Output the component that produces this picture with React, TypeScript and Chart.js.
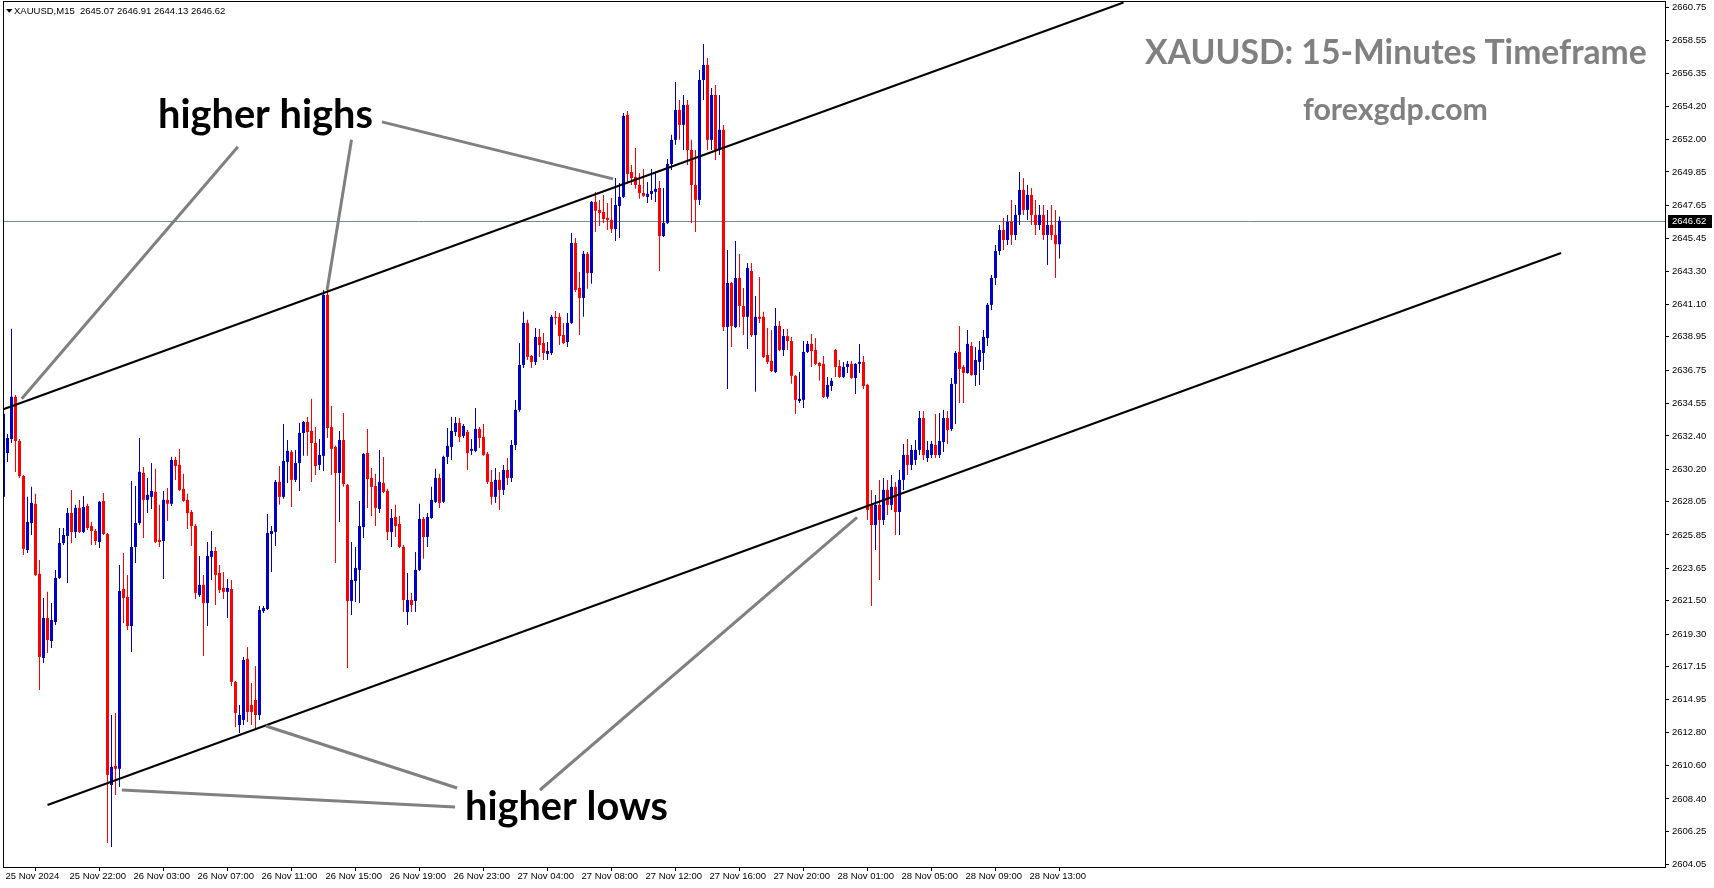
import React, { useEffect, useRef } from "react";
import { Chart, registerables } from "chart.js";

Chart.register(...registerables);

// ---- Candle data (XAUUSD M15), bar index = position on the time axis ----
const OPEN = [
  2628.37, 2631.27, 2632.20, 2634.98, 2632.06, 2629.75, 2624.86, 2626.64, 2627.91, 2623.28,
  2617.72, 2620.36, 2618.84, 2620.10, 2623.01, 2625.32, 2625.78, 2627.30, 2626.05, 2627.64,
  2626.05, 2627.77, 2626.44, 2626.11, 2625.39, 2628.10, 2625.92, 2609.32, 2610.58, 2610.39,
  2622.28, 2621.75, 2619.83, 2625.06, 2626.64, 2629.95, 2628.17, 2628.37, 2628.70, 2625.52,
  2625.45, 2628.17, 2627.91, 2630.81, 2630.48, 2628.90, 2628.17, 2627.37, 2626.44, 2621.88,
  2622.55, 2621.35, 2624.40, 2624.79, 2623.34, 2622.35, 2622.09, 2622.28, 2616.14, 2613.29,
  2613.62, 2617.66, 2614.61, 2614.94, 2613.95, 2620.82, 2620.95, 2625.92, 2626.05, 2629.36,
  2628.37, 2630.68, 2631.34, 2629.49, 2630.61, 2632.59, 2633.32, 2632.73, 2631.93, 2630.48,
  2631.08, 2641.72, 2632.99, 2631.67, 2629.95, 2632.13, 2629.16, 2621.49, 2622.81, 2623.54,
  2626.38, 2631.27, 2629.62, 2629.09, 2627.57, 2629.29, 2628.76, 2626.05, 2627.04, 2626.58,
  2625.06, 2620.76, 2621.55, 2621.49, 2623.54, 2626.91, 2625.72, 2626.97, 2628.04, 2629.62,
  2628.04, 2631.01, 2631.67, 2632.66, 2633.25, 2632.40, 2632.66, 2631.41, 2631.41, 2632.86,
  2632.33, 2631.21, 2629.36, 2628.37, 2629.49, 2628.83, 2630.15, 2629.62, 2631.80, 2634.12,
  2637.09, 2639.87, 2637.68, 2637.29, 2638.94, 2638.54, 2637.82, 2637.88, 2640.27, 2640.27,
  2639.07, 2638.61, 2639.87, 2645.15, 2642.18, 2641.52, 2644.43, 2643.17, 2647.87, 2647.34,
  2647.21, 2646.81, 2646.68, 2646.08, 2647.60, 2648.20, 2653.62, 2649.85, 2649.52, 2648.99,
  2648.46, 2648.20, 2648.40, 2648.53, 2648.79, 2645.61, 2646.48, 2650.38, 2651.97, 2653.95,
  2652.96, 2654.28, 2651.30, 2648.99, 2648.00, 2655.93, 2656.92, 2651.97, 2654.94, 2651.30,
  2652.63, 2639.60, 2642.51, 2639.60, 2642.84, 2640.99, 2640.27, 2643.30, 2639.07, 2640.27,
  2640.27, 2637.75, 2637.35, 2636.63, 2639.67, 2638.08, 2639.00, 2638.67, 2636.37, 2634.71,
  2634.78, 2637.95, 2638.48, 2638.08, 2637.22, 2637.16, 2634.98, 2635.70, 2638.08, 2637.02,
  2636.30, 2636.96, 2637.16, 2636.23, 2637.16, 2637.29, 2635.77, 2627.84, 2626.51, 2627.84,
  2626.84, 2628.83, 2627.84, 2629.03, 2627.37, 2629.49, 2631.14, 2630.48, 2630.81, 2631.47,
  2633.58, 2630.94, 2631.14, 2631.80, 2631.14, 2632.00, 2633.58, 2632.86, 2635.84, 2637.95,
  2636.96, 2636.56, 2638.34, 2636.43, 2637.29, 2637.88, 2638.87, 2641.06, 2642.84, 2644.62,
  2646.01, 2645.35, 2646.55, 2645.68, 2647.01, 2648.66, 2647.34, 2648.33, 2647.01, 2646.34,
  2647.01, 2645.68, 2646.34, 2645.68, 2645.07,
];

const HIGH = [
  2634.71, 2632.53, 2639.48, 2635.11, 2632.20, 2629.82, 2628.37, 2629.03, 2628.57, 2624.20,
  2621.69, 2622.09, 2621.35, 2623.54, 2626.31, 2626.31, 2627.64, 2628.83, 2627.84, 2628.17,
  2628.43, 2627.91, 2626.71, 2626.25, 2628.10, 2628.63, 2625.98, 2613.95, 2614.08, 2623.87,
  2624.66, 2623.21, 2629.42, 2629.09, 2632.26, 2630.35, 2629.62, 2630.61, 2630.22, 2627.84,
  2628.76, 2628.96, 2631.01, 2631.01, 2631.54, 2629.89, 2628.57, 2627.50, 2626.58, 2624.46,
  2623.21, 2625.39, 2626.11, 2625.06, 2623.87, 2623.41, 2622.94, 2622.88, 2616.20, 2614.61,
  2617.79, 2618.45, 2616.07, 2617.19, 2621.15, 2621.15, 2627.24, 2626.44, 2629.49, 2630.41,
  2633.19, 2632.13, 2631.47, 2631.47, 2633.25, 2633.39, 2633.65, 2634.85, 2632.99, 2632.20,
  2642.05, 2642.05, 2634.38, 2631.74, 2632.73, 2633.92, 2629.22, 2625.39, 2625.06, 2628.10,
  2631.27, 2632.86, 2630.28, 2629.89, 2631.47, 2631.01, 2628.90, 2627.57, 2627.84, 2627.11,
  2625.19, 2623.34, 2622.02, 2624.73, 2627.91, 2627.04, 2627.30, 2629.03, 2630.22, 2629.89,
  2631.08, 2632.92, 2633.65, 2633.65, 2633.58, 2633.19, 2632.79, 2632.20, 2634.25, 2632.99,
  2633.19, 2631.34, 2630.15, 2630.28, 2630.02, 2630.48, 2630.94, 2632.13, 2634.78, 2638.54,
  2640.60, 2640.07, 2637.75, 2639.53, 2639.47, 2639.20, 2638.61, 2640.40, 2640.66, 2640.53,
  2639.87, 2640.53, 2645.81, 2645.48, 2643.24, 2644.62, 2644.56, 2647.93, 2648.53, 2648.00,
  2648.33, 2647.80, 2648.13, 2649.45, 2649.12, 2653.75, 2653.88, 2650.31, 2651.43, 2649.78,
  2650.05, 2649.19, 2650.05, 2649.78, 2649.25, 2648.79, 2650.71, 2652.30, 2655.80, 2654.61,
  2654.94, 2654.61, 2651.97, 2651.30, 2656.59, 2658.31, 2657.38, 2655.40, 2655.60, 2654.94,
  2652.96, 2644.69, 2642.58, 2645.28, 2644.43, 2642.18, 2643.83, 2643.83, 2641.65, 2642.91,
  2640.60, 2639.53, 2639.40, 2640.86, 2640.00, 2639.47, 2639.47, 2638.94, 2636.43, 2636.63,
  2638.67, 2638.67, 2639.14, 2638.87, 2637.29, 2637.68, 2636.30, 2636.23, 2638.14, 2637.42,
  2637.29, 2637.35, 2637.35, 2637.22, 2638.48, 2637.68, 2635.84, 2628.83, 2628.50, 2629.49,
  2629.62, 2629.49, 2629.82, 2629.36, 2630.15, 2631.87, 2632.20, 2631.80, 2632.13, 2634.05,
  2634.05, 2632.06, 2632.06, 2633.85, 2633.92, 2634.12, 2634.05, 2636.23, 2638.01, 2639.67,
  2637.09, 2639.40, 2638.61, 2638.28, 2638.67, 2639.40, 2641.19, 2643.04, 2645.02, 2646.34,
  2646.81, 2647.01, 2648.00, 2647.67, 2649.85, 2649.45, 2648.99, 2648.79, 2648.00, 2647.67,
  2647.67, 2647.34, 2647.67, 2647.34, 2646.91,
];

const LOW = [
  2628.17, 2630.68, 2631.93, 2630.02, 2629.62, 2624.53, 2624.66, 2625.85, 2623.14, 2615.60,
  2617.39, 2618.05, 2618.38, 2619.90, 2622.94, 2625.19, 2622.68, 2625.32, 2625.65, 2625.98,
  2625.98, 2626.18, 2625.19, 2625.19, 2624.99, 2625.85, 2605.49, 2605.23, 2608.66, 2609.19,
  2620.03, 2619.57, 2618.12, 2624.00, 2626.51, 2625.65, 2627.30, 2627.57, 2625.32, 2625.06,
  2622.94, 2626.77, 2627.77, 2629.49, 2628.76, 2628.04, 2626.25, 2625.12, 2621.62, 2621.75,
  2617.85, 2619.83, 2622.88, 2621.22, 2622.02, 2621.62, 2620.36, 2615.87, 2613.16, 2612.76,
  2613.29, 2613.49, 2613.29, 2613.09, 2613.62, 2620.69, 2620.89, 2623.41, 2625.12, 2627.84,
  2628.24, 2629.29, 2627.70, 2629.36, 2628.76, 2631.08, 2631.08, 2629.36, 2629.82, 2630.15,
  2630.08, 2632.26, 2629.82, 2624.00, 2626.71, 2629.03, 2617.06, 2620.56, 2621.42, 2621.35,
  2625.65, 2627.64, 2627.11, 2626.44, 2627.30, 2628.63, 2625.52, 2625.06, 2625.72, 2624.99,
  2620.76, 2619.90, 2620.76, 2620.76, 2623.47, 2624.27, 2625.06, 2626.91, 2627.97, 2627.64,
  2627.97, 2630.55, 2630.81, 2632.40, 2632.00, 2632.26, 2630.15, 2631.14, 2631.34, 2631.60,
  2631.08, 2629.22, 2627.84, 2627.97, 2627.50, 2628.50, 2629.16, 2629.36, 2631.47, 2633.99,
  2636.89, 2637.42, 2636.89, 2637.09, 2637.62, 2637.42, 2637.42, 2637.75, 2639.74, 2638.41,
  2638.48, 2638.28, 2639.80, 2641.92, 2639.07, 2640.27, 2642.12, 2642.45, 2645.88, 2646.28,
  2646.48, 2646.01, 2645.81, 2645.28, 2645.48, 2648.13, 2649.12, 2648.99, 2648.73, 2648.07,
  2648.20, 2647.80, 2648.00, 2647.87, 2643.30, 2645.55, 2646.41, 2649.98, 2651.64, 2651.97,
  2651.30, 2650.31, 2646.48, 2645.88, 2647.67, 2654.61, 2651.30, 2651.30, 2650.64, 2650.97,
  2639.34, 2635.50, 2638.28, 2639.53, 2639.60, 2639.07, 2638.14, 2638.94, 2635.31, 2639.87,
  2637.55, 2637.16, 2636.63, 2636.56, 2638.01, 2637.68, 2638.08, 2635.84, 2633.85, 2634.58,
  2634.25, 2637.88, 2636.96, 2637.09, 2636.04, 2634.91, 2634.85, 2635.37, 2636.30, 2636.23,
  2636.23, 2636.56, 2636.17, 2635.17, 2636.56, 2635.50, 2626.84, 2621.15, 2624.86, 2622.88,
  2626.51, 2627.17, 2627.50, 2625.85, 2625.85, 2628.83, 2629.82, 2630.15, 2630.48, 2631.14,
  2630.81, 2630.68, 2630.94, 2630.94, 2630.94, 2631.34, 2631.87, 2632.73, 2633.19, 2634.58,
  2634.58, 2636.50, 2636.37, 2635.70, 2635.77, 2636.76, 2638.34, 2640.73, 2642.38, 2644.36,
  2644.69, 2645.02, 2645.02, 2645.35, 2646.34, 2647.01, 2646.68, 2646.34, 2645.68, 2646.01,
  2645.35, 2643.70, 2645.35, 2642.84, 2644.13,
];

const CLOSE = [
  2633.86, 2632.26, 2634.98, 2632.06, 2629.75, 2624.93, 2626.71, 2627.97, 2623.21, 2617.79,
  2620.36, 2618.91, 2620.23, 2623.01, 2625.32, 2625.85, 2627.30, 2626.05, 2627.64, 2626.05,
  2627.70, 2626.31, 2626.11, 2625.45, 2628.04, 2625.92, 2609.99, 2610.52, 2610.39, 2622.15,
  2621.69, 2619.83, 2625.06, 2626.64, 2630.02, 2628.17, 2628.50, 2628.76, 2625.39, 2625.39,
  2628.17, 2627.91, 2630.81, 2630.41, 2628.83, 2628.10, 2627.30, 2626.44, 2622.02, 2622.55,
  2621.35, 2624.46, 2624.79, 2623.21, 2622.22, 2622.09, 2622.35, 2616.14, 2614.08, 2613.95,
  2617.59, 2614.15, 2614.15, 2613.95, 2620.89, 2621.02, 2625.98, 2626.11, 2629.36, 2628.37,
  2630.74, 2631.41, 2629.49, 2630.61, 2632.59, 2633.32, 2632.66, 2631.93, 2630.41, 2631.14,
  2641.72, 2632.92, 2631.54, 2629.95, 2632.13, 2629.22, 2621.49, 2622.88, 2623.67, 2626.44,
  2631.21, 2629.55, 2629.03, 2627.64, 2629.36, 2628.70, 2626.05, 2626.97, 2626.44, 2625.06,
  2621.55, 2621.55, 2621.22, 2623.54, 2626.91, 2625.72, 2627.04, 2628.17, 2629.62, 2627.97,
  2631.01, 2631.74, 2632.73, 2633.25, 2632.33, 2633.06, 2631.27, 2631.54, 2632.86, 2632.26,
  2631.14, 2629.36, 2628.37, 2629.49, 2628.83, 2630.15, 2629.62, 2631.80, 2634.12, 2637.09,
  2639.87, 2637.62, 2637.29, 2638.94, 2638.41, 2637.88, 2638.01, 2640.27, 2640.20, 2639.00,
  2638.54, 2639.87, 2645.15, 2642.05, 2641.52, 2644.43, 2643.17, 2647.87, 2647.28, 2647.14,
  2646.74, 2646.68, 2646.08, 2647.67, 2648.20, 2653.55, 2649.72, 2649.45, 2648.99, 2648.46,
  2648.27, 2648.40, 2648.59, 2648.73, 2645.61, 2646.48, 2650.38, 2651.97, 2653.95, 2652.96,
  2654.28, 2651.30, 2648.99, 2648.00, 2655.93, 2656.92, 2651.97, 2654.94, 2651.30, 2652.63,
  2639.60, 2642.51, 2639.67, 2642.84, 2640.99, 2640.27, 2643.50, 2639.07, 2640.27, 2640.14,
  2637.62, 2637.29, 2636.69, 2639.67, 2638.08, 2639.00, 2638.67, 2636.37, 2634.78, 2634.85,
  2637.95, 2638.48, 2638.01, 2637.16, 2637.02, 2634.98, 2635.77, 2636.04, 2636.96, 2636.30,
  2636.96, 2637.16, 2636.23, 2637.16, 2637.29, 2635.70, 2627.50, 2626.51, 2627.84, 2626.84,
  2628.83, 2627.84, 2629.03, 2627.37, 2629.49, 2631.14, 2630.48, 2631.47, 2631.47, 2633.58,
  2631.14, 2631.47, 2631.87, 2631.14, 2632.06, 2633.58, 2632.79, 2635.84, 2637.88, 2636.83,
  2636.56, 2638.48, 2636.43, 2637.42, 2638.08, 2638.94, 2641.06, 2642.84, 2644.62, 2646.01,
  2645.35, 2646.55, 2645.68, 2647.01, 2648.66, 2647.34, 2648.33, 2647.01, 2646.34, 2647.01,
  2645.68, 2646.34, 2645.68, 2645.07, 2646.62,
];

const Y_TICKS = [
  2660.75, 2658.55, 2656.35, 2654.2, 2652.0, 2649.85, 2647.65, 2645.45, 2643.3, 2641.1,
  2638.95, 2636.75, 2634.55, 2632.4, 2630.2, 2628.05, 2625.85, 2623.65, 2621.5, 2619.3,
  2617.15, 2614.95, 2612.8, 2610.6, 2608.4, 2606.25, 2604.05,
];

const X_TICK_BARS = [0, 16, 32, 48, 64, 80, 96, 112, 128, 144, 160, 176, 192, 208, 224, 240, 256];
const X_TICK_LABELS = [
  "25 Nov 2024", "25 Nov 22:00", "26 Nov 03:00", "26 Nov 07:00", "26 Nov 11:00",
  "26 Nov 15:00", "26 Nov 19:00", "26 Nov 23:00", "27 Nov 04:00", "27 Nov 08:00",
  "27 Nov 12:00", "27 Nov 16:00", "27 Nov 20:00", "28 Nov 01:00", "28 Nov 05:00",
  "28 Nov 09:00", "28 Nov 13:00",
];

// channel trendlines: [bar index, price]
const UPPER_CHANNEL = [{ x: -1, y: 2634.07 }, { x: 280, y: 2661.05 }];
const LOWER_CHANNEL = [{ x: 11, y: 2608.0 }, { x: 389.4, y: 2644.49 }];

// pointer lines from the captions: [[bar, price], [bar, price]]
const HH_POINTERS = [
  [[58.6, 2651.51], [4.55, 2634.85]],
  [[87.0, 2651.97], [80.9, 2642.05]],
  [[94.6, 2653.16], [152.4, 2649.39]],
];
const HL_POINTERS = [
  [[113.4, 2609.12], [65.6, 2613.22]],
  [[112.9, 2607.87], [29.6, 2608.99]],
  [[134.1, 2608.99], [213.4, 2627.01]],
];

const BID = 2646.62;
const HEADER = "XAUUSD,M15  2645.07 2646.91 2644.13 2646.62";
const TITLE = "XAUUSD: 15-Minutes Timeframe";
const SITE = "forexgdp.com";

const BULL = "#0000CD";
const BEAR = "#FF0000";
const AXIS_FONT = '"Liberation Sans", Arial, sans-serif';
const BIG_FONT = 'Lato, "Open Sans", sans-serif';

function fitText(ctx: CanvasRenderingContext2D, text: string, x: number, baseline: number, width: number, color: string) {
  ctx.font = `bold 40px ${BIG_FONT}`;
  const w = ctx.measureText(text).width;
  const size = (40 * width) / w;
  ctx.font = `bold ${size}px ${BIG_FONT}`;
  ctx.fillStyle = color;
  ctx.textAlign = "left";
  ctx.textBaseline = "alphabetic";
  ctx.fillText(text, x, baseline);
}

const overlayPlugin = {
  id: "mtOverlay",
  beforeDatasetsDraw(chart: any) {
    const { ctx, chartArea, scales } = chart;
    const y = Math.round(scales.y.getPixelForValue(BID)) + 0.5;
    ctx.save();
    ctx.strokeStyle = "#778899";
    ctx.lineWidth = 1;
    ctx.beginPath();
    ctx.moveTo(chartArea.left, y);
    ctx.lineTo(chartArea.right, y);
    ctx.stroke();
    ctx.restore();
  },
  afterDatasetsDraw(chart: any) {
    const { ctx, scales } = chart;
    ctx.save();
    ctx.strokeStyle = "#808080";
    ctx.lineWidth = 3;
    [...HH_POINTERS, ...HL_POINTERS].forEach((seg) => {
      ctx.beginPath();
      ctx.moveTo(scales.x.getPixelForValue(seg[0][0]), scales.y.getPixelForValue(seg[0][1]));
      ctx.lineTo(scales.x.getPixelForValue(seg[1][0]), scales.y.getPixelForValue(seg[1][1]));
      ctx.stroke();
    });
    ctx.restore();
  },
  afterDraw(chart: any) {
    const { ctx, chartArea, scales } = chart;
    ctx.save();
    // frame
    ctx.strokeStyle = "#000";
    ctx.lineWidth = 1;
    ctx.strokeRect(chartArea.left + 0.5, chartArea.top + 0.5, chartArea.right - chartArea.left, chartArea.bottom - chartArea.top);
    // bid price box
    const by = scales.y.getPixelForValue(BID);
    ctx.fillStyle = "#000";
    ctx.fillRect(chartArea.right + 3, Math.round(by) - 6, 44, 13);
    ctx.fillStyle = "#fff";
    ctx.font = `9.5px ${AXIS_FONT}`;
    ctx.textAlign = "left";
    ctx.textBaseline = "middle";
    ctx.fillText(BID.toFixed(2), chartArea.right + 7, by + 0.5);
    // header
    ctx.fillStyle = "#000";
    ctx.beginPath();
    ctx.moveTo(6, 9);
    ctx.lineTo(12.5, 9);
    ctx.lineTo(9.25, 12.8);
    ctx.closePath();
    ctx.fill();
    ctx.textBaseline = "alphabetic";
    ctx.fillText(HEADER, 14, 13.5);
    // captions
    fitText(ctx, "higher highs", 158, 128, 215, "#000");
    fitText(ctx, "higher lows", 465, 820, 203, "#000");
    fitText(ctx, TITLE, 1145, 64, 502, "#808080");
    fitText(ctx, SITE, 1303, 120, 185, "#808080");
    ctx.restore();
  },
};

export default function App() {
  const ref = useRef<HTMLCanvasElement>(null);

  useEffect(() => {
    document.body.style.margin = "0";
    const canvas = ref.current;
    if (!canvas) return;
    const idx = OPEN.map((_, i) => i);
    const colors = idx.map((i) => (CLOSE[i] >= OPEN[i] ? BULL : BEAR));

    const chart = new Chart(canvas, {
      type: "bar",
      data: {
        datasets: [
          {
            type: "line",
            label: "upper channel",
            data: UPPER_CHANNEL,
            borderColor: "#000",
            borderWidth: 2,
            pointRadius: 0,
            order: 0,
          } as any,
          {
            type: "line",
            label: "lower channel",
            data: LOWER_CHANNEL,
            borderColor: "#000",
            borderWidth: 2,
            pointRadius: 0,
            order: 0,
          } as any,
          {
            type: "bar",
            label: "body",
            data: idx.map((i) => ({ x: i, y: [OPEN[i], CLOSE[i]] })),
            backgroundColor: colors,
            barThickness: 3,
            grouped: false,
            minBarLength: 1,
            inflateAmount: 0,
            borderWidth: 0,
            order: 1,
          } as any,
          {
            type: "bar",
            label: "wick",
            data: idx.map((i) => ({ x: i, y: [LOW[i], HIGH[i]] })),
            backgroundColor: colors,
            barThickness: 1,
            grouped: false,
            minBarLength: 1,
            inflateAmount: 0,
            borderWidth: 0,
            order: 2,
          } as any,
        ],
      },
      options: {
        responsive: false,
        animation: false,
        events: [],
        layout: { padding: { left: 3, top: 1, right: 0, bottom: 0 } },
        plugins: { legend: { display: false }, tooltip: { enabled: false } },
        scales: {
          x: {
            type: "linear",
            min: -0.125,
            max: 415.375,
            offset: false,
            grid: { display: true, drawOnChartArea: false, drawTicks: true, tickLength: 4, color: "#000", lineWidth: 1 },
            border: { display: false },
            ticks: {
              autoSkip: false,
              maxRotation: 0,
              minRotation: 0,
              align: "start",
              padding: 0,
              labelOffset: 2,
              color: "#000",
              font: { family: AXIS_FONT, size: 9.5 },
              callback: (v: any) => {
                const k = X_TICK_BARS.indexOf(Number(v));
                return k >= 0 ? X_TICK_LABELS[k] : "";
              },
            },
            afterBuildTicks: (s: any) => {
              s.ticks = X_TICK_BARS.map((v) => ({ value: v }));
            },
            afterFit: (s: any) => {
              s.height = 21;
              s.paddingLeft = 0;
              s.paddingRight = 0;
            },
          } as any,
          y: {
            type: "linear",
            position: "right",
            min: 2603.9,
            max: 2661.15,
            grid: { display: true, drawOnChartArea: false, drawTicks: true, tickLength: 4, color: "#000", lineWidth: 1 },
            border: { display: false },
            ticks: {
              autoSkip: false,
              padding: 3,
              color: "#000",
              font: { family: AXIS_FONT, size: 9.5 },
              callback: (v: any) => Number(v).toFixed(2),
            },
            afterBuildTicks: (s: any) => {
              s.ticks = Y_TICKS.map((v) => ({ value: v }));
            },
            afterFit: (s: any) => {
              s.width = 49;
              s.paddingTop = 0;
              s.paddingBottom = 0;
            },
          } as any,
        },
      },
      plugins: [overlayPlugin as any],
    });

    return () => chart.destroy();
  }, []);

  return (
    <div style={{ position: "absolute", left: 0, top: 0, width: 1714, height: 888, background: "#fff" }}>
      <canvas ref={ref} width={1714} height={888} style={{ display: "block", width: 1714, height: 888 }} />
    </div>
  );
}
